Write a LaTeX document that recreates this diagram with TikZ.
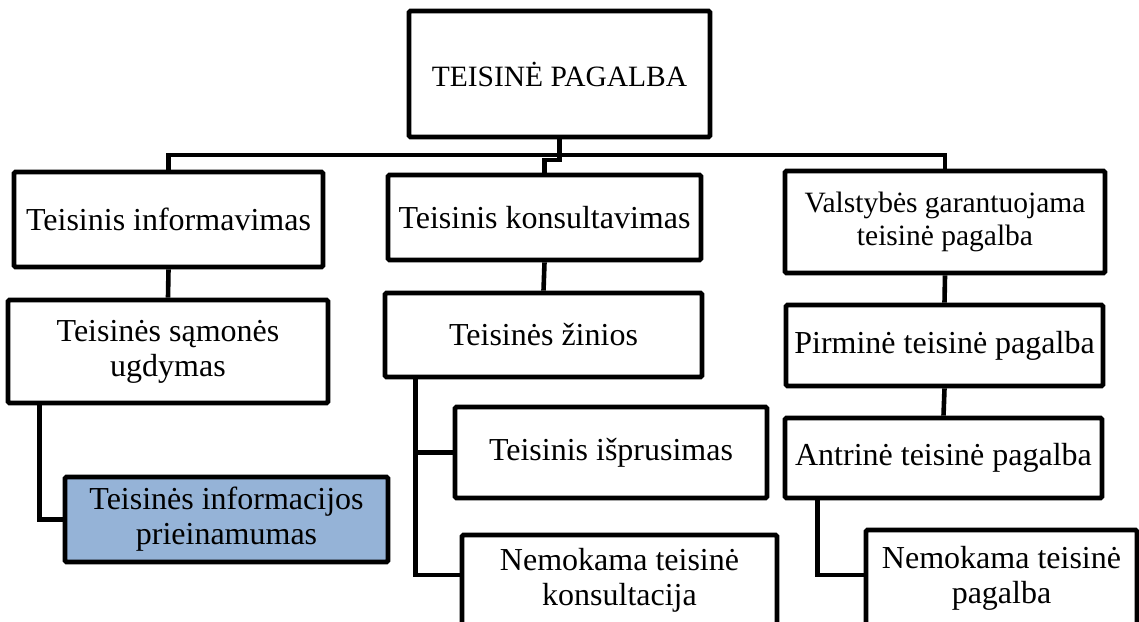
\documentclass[tikz,border=0pt]{standalone}
\usepackage{fontspec}
\setmainfont{Liberation Serif}
\definecolor{boxblue}{HTML}{95B3D7}
\begin{document}
\begin{tikzpicture}[x=1pt,y=-1pt,
  box/.style={draw=black, line width=4.8pt, rounded corners=1.5pt, fill=white, inner sep=0pt,
    align=center, font=\fontsize{32}{35}\selectfont},
  smallbox/.style={box, font=\fontsize{29.5}{32.5}\selectfont},
  link/.style={line width=4.6pt, line join=miter}]
\useasboundingbox (0,0) rectangle (1139,621);
\clip (0,0) rectangle (1139,621);

\node[smallbox, minimum width=301, minimum height=126] (top) at (559.5,74) {TEISINĖ PAGALBA};
\node[box, minimum width=309, minimum height=95] (info) at (168.5,219.5) {Teisinis informavimas};
\node[box, minimum width=313, minimum height=85] (kons) at (544.5,217.5) {Teisinis konsultavimas};
\node[smallbox, minimum width=320, minimum height=102] (valst) at (945,222) {Valstybės garantuojama\\teisinė pagalba};

\node[box, minimum width=320, minimum height=103] (samon) at (168,351.5) {Teisinės sąmonės\\ugdymas};
\node[box, fill=boxblue, minimum width=323, minimum height=85] (prieina) at (226.5,519.5) {Teisinės informacijos\\prieinamumas};

\node[box, minimum width=317, minimum height=84] (zinios) at (543.5,335) {Teisinės žinios};
\node[box, minimum width=312, minimum height=91] (ispr) at (611,452.5) {Teisinis išprusimas};
\node[box, minimum width=315, minimum height=90] (nemkons) at (619.5,580) {Nemokama teisinė\\konsultacija};

\node[box, minimum width=317, minimum height=81] (pirm) at (944.5,345.5) {Pirminė teisinė pagalba};
\node[box, minimum width=317, minimum height=80] (antr) at (943.5,458) {Antrinė teisinė pagalba};
\node[box, minimum width=271, minimum height=96] (nempag) at (1001.5,578) {Nemokama teisinė\\pagalba};

\coordinate (bus) at (0,155);
\coordinate (jog) at (0,160);

\draw[link] (top.south) -- (top.south |- bus);
\draw[link] (info.north) |- (valst.north |- bus) -- (valst.north);
\draw[link] (top.south |- bus) -- (top.south |- jog) -| (kons.north);

\draw[link] (info.south) -- (samon.north);
\draw[link] ([xshift=34pt]samon.south west) |- (prieina.west);

\draw[link] (kons.south) -- (zinios.north);
\draw[link] ([xshift=33pt]zinios.south west) |- (ispr.west);
\draw[link] ([xshift=33pt]zinios.south west) |- ([yshift=5pt]nemkons.west);

\draw[link] (valst.south) -- (pirm.north);
\draw[link] (pirm.south) -- (antr.north);
\draw[link] ([xshift=35pt]antr.south west) |- ([yshift=3pt]nempag.west);
\end{tikzpicture}
\end{document}
